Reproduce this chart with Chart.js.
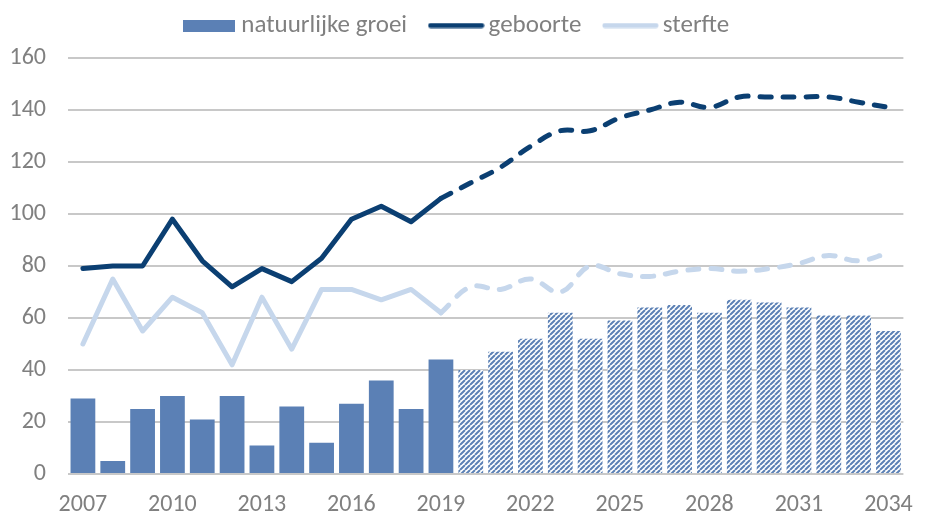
<!DOCTYPE html>
<html>
<head>
<meta charset="utf-8">
<script src="https://cdn.jsdelivr.net/npm/chart.js@4/dist/chart.umd.min.js"></script>
<style>
  html, body { margin: 0; padding: 0; background: #ffffff; }
  #wrap { width: 930px; height: 514px; position: relative; }
</style>
</head>
<body>
<div id="wrap"><canvas id="c" width="930" height="514"></canvas></div>
<script>
// ---- data ----
const years = [2007, 2008, 2009, 2010, 2011, 2012, 2013, 2014, 2015, 2016, 2017, 2018, 2019,
               2020, 2021, 2022, 2023, 2024, 2025, 2026, 2027, 2028, 2029, 2030, 2031, 2032, 2033, 2034];
const natuurlijkeGroei = [29, 5, 25, 30, 21, 30, 11, 26, 12, 27, 36, 25, 44,
                          40, 47, 52, 62, 52, 59, 64, 65, 62, 67, 66, 64, 61, 61, 55];
const geboorte = [79, 80, 80, 98, 82, 72, 79, 74, 83, 98, 103, 97, 106,
                  112, 118, 126, 132, 132, 137, 140, 143, 141, 145, 145, 145, 145, 143, 141];
const sterfte = [50, 75, 55, 68, 62, 42, 68, 48, 71, 71, 67, 71, 62,
                 72, 71, 75, 70, 80, 77, 76, 78, 79, 78, 79, 81, 84, 82, 85];
const lastObservedYear = 2019;
const yTicks = [0, 20, 40, 60, 80, 100, 120, 140, 160];
const tickEvery = 3;
const seriesNames = ['natuurlijke groei', 'geboorte', 'sterfte'];

// ---- styles ----
const FONT = "Carlito, Calibri, 'Open Sans', sans-serif";
const barColor = '#5b80b5';
const birthColor = '#0b3f72';
const deathColor = '#c6d7ec';
const textColor = '#808080';
const gridColor = '#c8c8c8';

const splitIdx = years.indexOf(lastObservedYear);

function hatch() {
  const s = 5;
  const c = document.createElement('canvas');
  c.width = s; c.height = s;
  const g = c.getContext('2d');
  g.fillStyle = '#ffffff';
  g.fillRect(0, 0, s, s);
  g.strokeStyle = barColor;
  g.lineWidth = 2;
  g.beginPath();
  for (let k = -1; k <= 1; k++) {
    g.moveTo(k * s, s);
    g.lineTo(k * s + s, 0);
  }
  g.stroke();
  return g.createPattern(c, 'repeat');
}
const hatchPattern = hatch();

function symbol(kind, color) {
  const c = document.createElement('canvas');
  if (kind === 'rect') {
    c.width = 52; c.height = 12;
    const g = c.getContext('2d');
    g.fillStyle = color;
    g.fillRect(0, 0, 52, 12);
  } else {
    c.width = 57; c.height = 6;
    const g = c.getContext('2d');
    g.strokeStyle = color;
    g.lineWidth = 5;
    g.lineCap = 'round';
    g.beginPath();
    g.moveTo(3, 3);
    g.lineTo(54, 3);
    g.stroke();
  }
  return c;
}

const hist = arr => arr.map((v, i) => i <= splitIdx ? v : null);
const fore = arr => arr.map((v, i) => i >= splitIdx ? v : null);

const legendMargin = {
  id: 'legendMargin',
  beforeInit(chart) {
    const origFit = chart.legend.fit;
    chart.legend.fit = function () {
      origFit.bind(chart.legend)();
      this.height = 74;
    };
  }
};

new Chart(document.getElementById('c'), {
  data: {
    labels: years.map(String),
    datasets: [
      {
        type: 'bar',
        label: seriesNames[0],
        data: natuurlijkeGroei,
        backgroundColor: natuurlijkeGroei.map((v, i) => i <= splitIdx ? barColor : hatchPattern),
        borderWidth: 0,
        barPercentage: 0.83,
        categoryPercentage: 1.0,
        order: 10
      },
      {
        type: 'line',
        label: seriesNames[1],
        data: hist(geboorte),
        borderColor: birthColor,
        borderWidth: 5,
        pointRadius: 0,
        tension: 0,
        borderJoinStyle: 'round',
        borderCapStyle: 'round',
        order: 1
      },
      {
        type: 'line',
        label: seriesNames[1] + ' prognose',
        data: fore(geboorte),
        borderColor: birthColor,
        borderWidth: 5,
        borderDash: [11, 12],
        borderCapStyle: 'round',
        pointRadius: 0,
        tension: 0.4,
        order: 1
      },
      {
        type: 'line',
        label: seriesNames[2],
        data: hist(sterfte),
        borderColor: deathColor,
        borderWidth: 5,
        pointRadius: 0,
        tension: 0,
        borderJoinStyle: 'round',
        borderCapStyle: 'round',
        order: 2
      },
      {
        type: 'line',
        label: seriesNames[2] + ' prognose',
        data: fore(sterfte),
        borderColor: deathColor,
        borderWidth: 5,
        borderDash: [11, 12],
        borderCapStyle: 'round',
        pointRadius: 0,
        tension: 0.4,
        order: 2
      }
    ]
  },
  options: {
    responsive: false,
    animation: false,
    layout: { padding: { top: -16, right: 12, left: 0, bottom: 0 } },
    plugins: {
      tooltip: { enabled: false },
      legend: {
        position: 'top',
        align: 'center',
        labels: {
          color: textColor,
          font: { family: FONT, size: 25 },
          usePointStyle: true,
          pointStyleWidth: 40,
          boxHeight: 12,
          padding: 29,
          generateLabels(chart) {
            return [
              { text: seriesNames[0], pointStyle: symbol('rect', barColor), lineWidth: 0, datasetIndex: 0, fontColor: textColor },
              { text: seriesNames[1], pointStyle: symbol('line', birthColor), lineWidth: 0, datasetIndex: 1, fontColor: textColor },
              { text: seriesNames[2], pointStyle: symbol('line', deathColor), lineWidth: 0, datasetIndex: 3, fontColor: textColor }
            ];
          }
        }
      }
    },
    scales: {
      x: {
        grid: { display: false, drawTicks: false },
        border: { display: false },
        ticks: {
          color: textColor,
          font: { family: FONT, size: 24 },
          autoSkip: false,
          maxRotation: 0,
          padding: 17,
          callback(val, idx) { return idx % tickEvery === 0 ? years[idx] : ''; }
        },
        afterFit(scale) { scale.height = 40; }
      },
      y: {
        min: yTicks[0],
        max: yTicks[yTicks.length - 1],
        grid: { color: gridColor, lineWidth: 2, drawTicks: false },
        border: { display: false },
        afterBuildTicks(scale) { scale.ticks = yTicks.map(v => ({ value: v })); },
        ticks: {
          color: textColor,
          font: { family: FONT, size: 24 },
          padding: 22
        },
        afterFit(scale) { scale.width = 68; }
      }
    }
  },
  plugins: [legendMargin]
});
</script>
</body>
</html>
